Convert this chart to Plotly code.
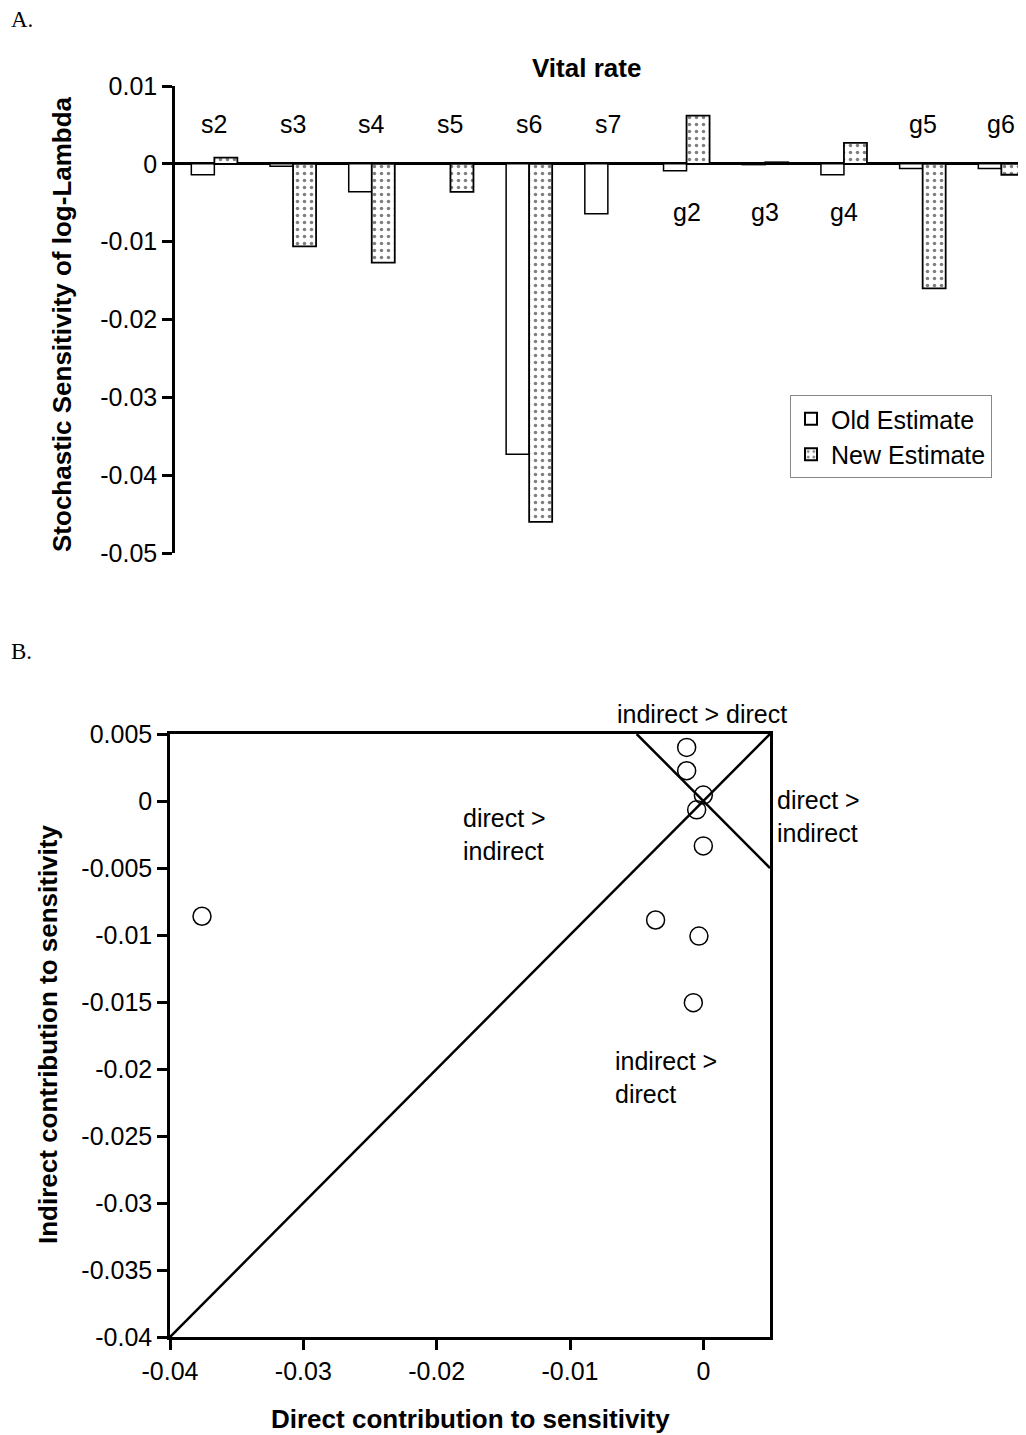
import plotly.graph_objects as go

W, H = 1026, 1435
OFF = 8  # page body margin offset

# ---------------- Panel A data ----------------
categories = ["s2", "s3", "s4", "s5", "s6", "s7", "g2", "g3", "g4", "g5", "g6"]
old_estimate = [-0.0014, -0.0003, -0.0036, 0.0, -0.0373, -0.0064, -0.0009, -0.0001, -0.0014, -0.0006, -0.0006]
new_estimate = [0.0008, -0.0106, -0.0127, -0.0036, -0.0460, 0.0, 0.0062, 0.0002, 0.0027, -0.0160, -0.0014]
label_above = [True, True, True, True, True, True, False, False, False, True, True]
a_tickvals = [0.01, 0.0, -0.01, -0.02, -0.03, -0.04, -0.05]
a_ticktext = ["0.01", "0", "-0.01", "-0.02", "-0.03", "-0.04", "-0.05"]

# ---------------- Panel B data ----------------
direct = [-0.00125, -0.00125, 0.0, -0.0005, 0.0, -0.00358, -0.00033, -0.00075, -0.0376]
indirect = [0.0040, 0.00226, 0.00044, -0.00066, -0.00335, -0.00888, -0.01008, -0.01505, -0.0086]
diag_x = [-0.04, 0.005]
diag_y = [-0.04, 0.005]
anti_x = [-0.005, 0.005]
anti_y = [0.005, -0.005]
bx_tickvals = [-0.04, -0.03, -0.02, -0.01, 0.0]
bx_ticktext = ["-0.04", "-0.03", "-0.02", "-0.01", "0"]
by_tickvals = [0.005, 0.0, -0.005, -0.01, -0.015, -0.02, -0.025, -0.03, -0.035, -0.04]
by_ticktext = ["0.005", "0", "-0.005", "-0.01", "-0.015", "-0.02", "-0.025", "-0.03", "-0.035", "-0.04"]

FONT = "Liberation Sans, Arial, sans-serif"
SERIF = "Liberation Serif, Times New Roman, serif"
FS = 25      # regular text
FT = 26      # bold titles


def px_x(p):
    return (p - OFF) / W


def px_y(p):
    return 1 - (p - OFF) / H


fig = go.Figure()

fig.add_trace(go.Bar(
    x=categories, y=old_estimate, name="Old Estimate",
    marker=dict(color="white", line=dict(color="black", width=1.5)),
    xaxis="x", yaxis="y",
))
fig.add_trace(go.Bar(
    x=categories, y=new_estimate, name="New Estimate",
    marker=dict(color="white", line=dict(color="black", width=1.8),
                pattern=dict(shape=".", fgcolor="black", bgcolor="white", size=7, solidity=0.2)),
    xaxis="x", yaxis="y",
))

# Panel B traces
fig.add_trace(go.Scatter(x=diag_x, y=diag_y, mode="lines", line=dict(color="black", width=2.5),
                         showlegend=False, xaxis="x2", yaxis="y2", hoverinfo="skip"))
fig.add_trace(go.Scatter(x=anti_x, y=anti_y, mode="lines", line=dict(color="black", width=2.5),
                         showlegend=False, xaxis="x2", yaxis="y2", hoverinfo="skip"))
fig.add_trace(go.Scatter(x=direct, y=indirect, mode="markers",
                         marker=dict(symbol="circle-open", size=18, color="black", line=dict(width=1.5)),
                         showlegend=False, xaxis="x2", yaxis="y2", cliponaxis=False))

reg = dict(family=FONT, size=FS, color="black")
bold = dict(family=FONT, size=FT, color="black")

annotations = []
# category labels
for c, above in zip(categories, label_above):
    annotations.append(dict(x=c, y=0.0051 if above else -0.0062, xref="x", yref="y",
                            text=c, showarrow=False, font=reg,
                            xanchor="center", yanchor="middle"))
# axis titles
annotations.append(dict(x=px_x(586), y=px_y(68), xref="paper", yref="paper", text="<b>Vital rate</b>",
                        showarrow=False, xanchor="center", yanchor="middle", font=bold))
annotations.append(dict(x=px_x(62), y=px_y(324), xref="paper", yref="paper",
                        text="<b>Stochastic Sensitivity of log-Lambda</b>", textangle=-90,
                        showarrow=False, xanchor="center", yanchor="middle", font=bold))
annotations.append(dict(x=px_x(470), y=px_y(1419), xref="paper", yref="paper",
                        text="<b>Direct contribution to sensitivity</b>",
                        showarrow=False, xanchor="center", yanchor="middle", font=bold))
annotations.append(dict(x=px_x(48), y=px_y(1035), xref="paper", yref="paper",
                        text="<b>Indirect contribution to sensitivity</b>", textangle=-90,
                        showarrow=False, xanchor="center", yanchor="middle", font=bold))
# panel letters
annotations.append(dict(x=px_x(9), y=px_y(20), xref="paper", yref="paper", text="A.",
                        showarrow=False, xanchor="left", yanchor="middle",
                        font=dict(family=SERIF, size=23, color="black")))
annotations.append(dict(x=px_x(9), y=px_y(652), xref="paper", yref="paper", text="B.",
                        showarrow=False, xanchor="left", yanchor="middle",
                        font=dict(family=SERIF, size=23, color="black")))
# region labels in panel B
annotations.append(dict(x=px_x(702), y=px_y(714), xref="paper", yref="paper", text="indirect > direct",
                        showarrow=False, xanchor="center", yanchor="middle", font=reg))
annotations.append(dict(x=px_x(775), y=px_y(816), xref="paper", yref="paper", text="direct ><br>indirect",
                        showarrow=False, xanchor="left", yanchor="middle", align="left", font=reg))
annotations.append(dict(x=-0.0182, y=-0.0025, xref="x2", yref="y2", text="direct ><br>indirect",
                        showarrow=False, xanchor="left", yanchor="middle", align="left", font=reg))
annotations.append(dict(x=-0.0068, y=-0.0206, xref="x2", yref="y2", text="indirect ><br>direct",
                        showarrow=False, xanchor="left", yanchor="middle", align="left", font=reg))

fig.update_layout(
    width=W, height=H,
    margin=dict(l=0, r=0, t=0, b=0, autoexpand=False),
    paper_bgcolor="white", plot_bgcolor="white",
    font=dict(family=FONT, size=FS, color="black"),
    barmode="group", bargap=0.415, bargroupgap=0.0,
    showlegend=True,
    legend=dict(x=px_x(790), y=px_y(395), xanchor="left", yanchor="top",
                bordercolor="#888888", borderwidth=1, bgcolor="white",
                font=reg, itemsizing="constant", tracegroupgap=0),
    xaxis=dict(domain=[px_x(175), 1.0], range=[-0.5, -0.5 + (W + OFF - 175) / 78.7], type="category",
               showticklabels=False, ticks="", showline=False, showgrid=False, zeroline=False,
               automargin=False, anchor="y"),
    yaxis=dict(domain=[px_y(553), px_y(86)], range=[-0.05, 0.01],
               tickvals=a_tickvals, ticktext=a_ticktext, ticks="outside", ticklen=10, tickwidth=2.5,
               tickcolor="black", showline=True, linewidth=2.5, linecolor="black",
               showgrid=False, zeroline=True, zerolinecolor="black", zerolinewidth=2.5,
               tickfont=reg, automargin=False, anchor="x"),
    xaxis2=dict(domain=[px_x(170), px_x(770)], range=[-0.04, 0.005],
                tickvals=bx_tickvals, ticktext=bx_ticktext, ticks="outside", ticklen=10, tickwidth=2.5,
                tickcolor="black", showline=True, linewidth=2.5, linecolor="black", mirror=True,
                showgrid=False, zeroline=False, tickfont=reg, automargin=False, anchor="y2"),
    yaxis2=dict(domain=[px_y(1337), px_y(734)], range=[-0.04, 0.005],
                tickvals=by_tickvals, ticktext=by_ticktext, ticks="outside", ticklen=10, tickwidth=2.5,
                tickcolor="black", showline=True, linewidth=2.5, linecolor="black", mirror=True,
                showgrid=False, zeroline=False, tickfont=reg, automargin=False, anchor="x2"),
    annotations=annotations,
)

fig.write_html("out.html")
